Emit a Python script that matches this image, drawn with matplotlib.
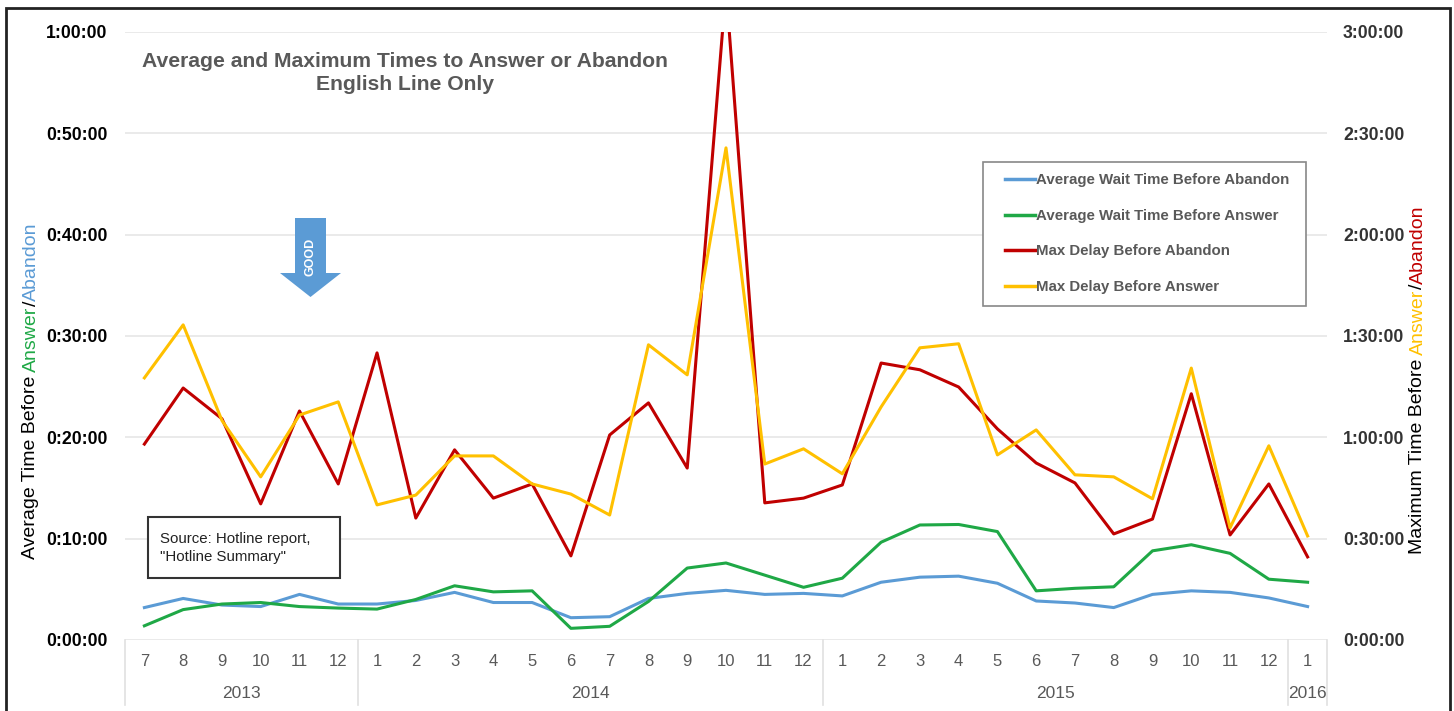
import matplotlib
matplotlib.use("Agg")
import matplotlib.pyplot as plt
from matplotlib.patches import Rectangle, Polygon
from matplotlib.lines import Line2D
from matplotlib.ticker import FuncFormatter, MultipleLocator

plt.rcParams['font.family'] = ['Liberation Sans', 'DejaVu Sans']

# months Jul 2013 .. Jan 2016
months = [7, 8, 9, 10, 11, 12,
          1, 2, 3, 4, 5, 6, 7, 8, 9, 10, 11, 12,
          1, 2, 3, 4, 5, 6, 7, 8, 9, 10, 11, 12,
          1]
years = ["2013", "2014", "2015", "2016"]
year_counts = [6, 12, 12, 1]

# values in minutes (left axis: averages, right axis: maximums)
avg_abandon = [3.2, 4.1, 3.45, 3.3, 4.5, 3.55,
               3.55, 3.9, 4.7, 3.7, 3.7, 2.2, 2.3, 4.1, 4.6, 4.9, 4.5, 4.6,
               4.35, 5.7, 6.2, 6.3, 5.6, 3.85, 3.65, 3.2, 4.5, 4.85, 4.7, 4.15,
               3.3]
avg_answer = [1.4, 3.0, 3.55, 3.7, 3.3, 3.15,
              3.05, 4.0, 5.35, 4.75, 4.85, 1.15, 1.35, 3.8, 7.1, 7.6, 6.4, 5.2,
              6.1, 9.65, 11.35, 11.4, 10.7, 4.85, 5.1, 5.25, 8.8, 9.4, 8.55, 6.0,
              5.7]
max_abandon = [58.0, 74.6, 65.5, 40.3, 67.8, 46.2,
               85.0, 36.1, 56.3, 42.0, 46.2, 24.9, 60.7, 70.2, 50.9, 193.0, 40.6, 42.0,
               45.9, 82.0, 80.0, 74.9, 62.5, 52.4, 46.5, 31.4, 35.8, 72.9, 31.1, 46.2,
               24.6]
max_answer = [77.6, 93.3, 65.0, 48.3, 66.6, 70.5,
              40.0, 42.9, 54.5, 54.5, 46.2, 43.2, 37.0, 87.4, 78.5, 145.7, 52.1, 56.6,
              49.2, 69.0, 86.5, 87.7, 54.8, 62.2, 48.9, 48.3, 41.8, 80.5, 33.2, 57.5,
              30.8]

BLUE = "#5B9BD5"
GREEN = "#1FA846"
RED = "#C00000"
YELLOW = "#FFC000"
GRAY = "#595959"

W, H = 1454, 711
fig = plt.figure(figsize=(W / 100, H / 100), dpi=100)


def fx(px):
    return px / W


def fy(py):
    return 1 - py / H


def hms(m, pos=None):
    total = int(round(m * 60))
    return "%d:%02d:%02d" % (total // 3600, (total % 3600) // 60, total % 60)


ax = fig.add_axes([fx(125), fy(640), fx(1327) - fx(125), fy(32) - fy(640)])
ax2 = ax.twinx()

x = list(range(len(months)))
ax.plot(x, avg_abandon, color=BLUE, lw=2.2)
ax.plot(x, avg_answer, color=GREEN, lw=2.2)
ax2.plot(x, max_abandon, color=RED, lw=2.2)
ax2.plot(x, max_answer, color=YELLOW, lw=2.2)

ax.set_xlim(-0.5, len(months) - 0.5)
ax.set_ylim(0, 60)
ax2.set_ylim(0, 180)
ax.yaxis.set_major_locator(MultipleLocator(10))
ax2.yaxis.set_major_locator(MultipleLocator(30))
ax.yaxis.set_major_formatter(FuncFormatter(hms))
ax2.yaxis.set_major_formatter(FuncFormatter(hms))
ax.grid(axis='y', color="#E6E6E6", lw=1.2)
ax.set_axisbelow(True)
ax.set_xticks([])

for a in (ax, ax2):
    for s in a.spines.values():
        s.set_visible(False)
    a.tick_params(length=0)
ax.tick_params(axis='y', pad=12.5, labelsize=12.7)
ax2.tick_params(axis='y', pad=11.5, labelsize=12.7, labelcolor="#333333")
for t in ax.get_yticklabels():
    t.set_fontweight('bold')
for t in ax2.get_yticklabels():
    t.set_fontweight('bold')

# category axis: months and years
trans = ax.get_xaxis_transform()
for i, m in enumerate(months):
    ax.text(i, -(662 - 640) / (640 - 32), str(m), transform=trans,
            ha='center', va='center', fontsize=12, color=GRAY)
start = 0
bounds = [-0.5]
for yr, n in zip(years, year_counts):
    ax.text(start + (n - 1) / 2, -(693 - 640) / (640 - 32), yr, transform=trans,
            ha='center', va='center', fontsize=12.5, color=GRAY)
    start += n
    bounds.append(start - 0.5)
for b in bounds:
    ax.add_line(Line2D([b, b], [0, -(705 - 640) / (640 - 32)], transform=trans,
                       color="#E0E0E0", lw=1.2, clip_on=False))

# title
fig.text(fx(405), fy(73), "Average and Maximum Times to Answer or Abandon\nEnglish Line Only",
         ha='center', va='center', fontsize=15.2, fontweight='bold', color=GRAY,
         linespacing=1.25)

# legend (frame drawn separately)
fig.patches.append(Rectangle((fx(983), fy(306)), fx(1306) - fx(983), fy(162) - fy(306),
                             transform=fig.transFigure, facecolor='white',
                             edgecolor="#888888", lw=1.2, zorder=2))
handles = [Line2D([], [], color=c, lw=2.5) for c in (BLUE, GREEN, RED, YELLOW)]
labels = ["Average Wait Time Before Abandon", "Average Wait Time Before Answer",
          "Max Delay Before Abandon", "Max Delay Before Answer"]
leg = fig.legend(handles, labels, loc='upper left',
                 bbox_to_anchor=(fx(1005), fy(173)),
                 bbox_transform=fig.transFigure, frameon=False,
                 prop={'size': 10.8, 'weight': 'bold'}, labelcolor=GRAY,
                 handlelength=2.0, handletextpad=0.1, labelspacing=1.45,
                 borderpad=0, borderaxespad=0)
leg.set_zorder(6)

# source box
fig.patches.append(Rectangle((fx(148), fy(578)), fx(340) - fx(148), fy(517) - fy(578),
                             transform=fig.transFigure, facecolor='white',
                             edgecolor="#333333", lw=1.5, zorder=5))
fig.text(fx(160), fy(548), 'Source: Hotline report,\n"Hotline Summary"', ha='left', va='center',
         fontsize=10.8, color="#222222", linespacing=1.3, zorder=6)

# GOOD arrow
arrow_px = [(295, 218), (326, 218), (326, 273), (341, 273), (310.5, 297), (280, 273), (295, 273)]
fig.patches.append(Polygon([(fx(a), fy(b)) for a, b in arrow_px], closed=True,
                           transform=fig.transFigure, facecolor=BLUE, edgecolor='none'))
fig.text(fx(310.5), fy(257), "GOOD", rotation=90, ha='center', va='center',
         fontsize=9, fontweight='bold', color='white')

# multi-coloured axis labels
renderer = fig.canvas.get_renderer()


def width_px(s, size):
    t = fig.text(0, 0, s, fontsize=size)
    w = t.get_window_extent(renderer).width
    t.remove()
    return w


def color_label(xpx, ycenter_px, pieces, size=14):
    full = "".join(p for p, _ in pieces)
    total = width_px(full, size)
    y0 = H - ycenter_px - total / 2
    acc = ""
    for p, c in pieces:
        acc += p
        end = width_px(acc, size)
        start = end - width_px(p.strip(), size)
        if acc == p:
            start = 0
        fig.text(fx(xpx), (y0 + start) / H, p.strip(), rotation=90, ha='center', va='bottom',
                 fontsize=size, color=c)


color_label(31, 391, [("Average Time Before ", "black"), ("Answer", GREEN),
                      ("/", "black"), ("Abandon", BLUE)])
color_label(1418, 380, [("Maximum Time Before ", "black"), ("Answer", YELLOW),
                        ("/", "black"), ("Abandon", RED)])

# outer frame
fig.patches.append(Rectangle((fx(6), -0.05), fx(1450) - fx(6), fy(8) + 0.05,
                             transform=fig.transFigure, facecolor='none',
                             edgecolor="#222222", lw=2))

fig.savefig("out.png", dpi=100)
